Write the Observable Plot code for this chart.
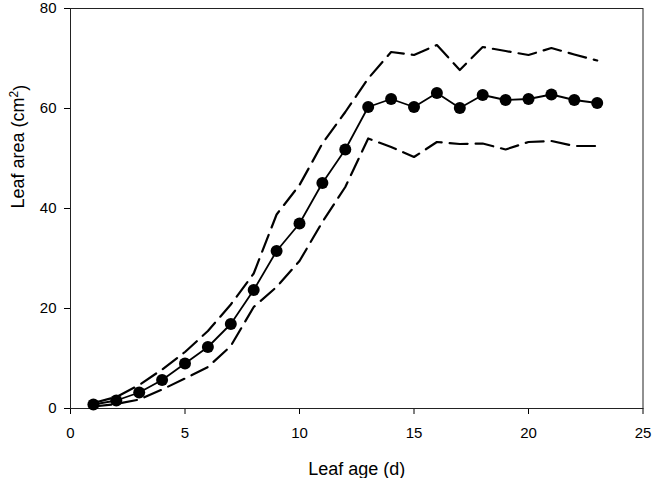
<!DOCTYPE html>
<html>
<head>
<meta charset="utf-8">
<script src="https://cdn.jsdelivr.net/npm/d3@7"></script>
<script src="https://cdn.jsdelivr.net/npm/@observablehq/plot@0.6"></script>
<style>
  html, body { margin: 0; padding: 0; background: #fff; }
</style>
</head>
<body>
<div id="chart"></div>
<script>
const ages = [1,2,3,4,5,6,7,8,9,10,11,12,13,14,15,16,17,18,19,20,21,22,23];
const meanArea = [0.8,1.6,3.2,5.7,9.0,12.3,16.9,23.7,31.5,37.0,45.1,51.8,60.3,61.9,60.3,63.1,60.1,62.7,61.7,61.9,62.8,61.7,61.1];
const upperArea = [1.1,2.3,4.7,7.8,11.3,15.5,20.8,27.0,38.8,44.7,53.0,59.3,66.0,71.3,70.7,72.7,67.7,72.3,71.5,70.7,72.1,70.8,69.6];
const lowerArea = [0.4,0.9,1.8,3.8,6.0,8.3,12.5,20.3,24.3,29.5,37.3,44.3,54.0,52.3,50.3,53.3,52.9,53.0,51.8,53.3,53.5,52.5,52.5];
const xTicks = [0,5,10,15,20,25];
const yTicks = [0,20,40,60,80];
const xTitle = "Leaf age (d)";
const yTitleMain = "Leaf area (cm";
const yTitleSup = "2";
const yTitleEnd = ")";

const data = ages.map((a, i) => ({age: a, mean: meanArea[i], upper: upperArea[i], lower: lowerArea[i]}));

const chart = Plot.plot({
  width: 653,
  height: 478,
  marginLeft: 70,
  marginRight: 10.5,
  marginTop: 8,
  marginBottom: 70,
  style: {fontFamily: "'Liberation Sans', Arial, sans-serif", fontSize: "15px", color: "#000", background: "#fff"},
  x: {domain: [0, 25]},
  y: {domain: [0, 80]},
  marks: [
    Plot.axisX({ticks: xTicks, tickSize: 6, tickPadding: 13, label: null, fontSize: 15}),
    Plot.axisY({ticks: yTicks, tickSize: 6, tickPadding: 8, label: null, fontSize: 15}),
    Plot.frame({stroke: "#222", strokeWidth: 1}),
    Plot.line(data, {x: "age", y: "upper", stroke: "#000", strokeWidth: 2.2, strokeDasharray: "18,8"}),
    Plot.line(data, {x: "age", y: "lower", stroke: "#000", strokeWidth: 2.2, strokeDasharray: "18,8"}),
    Plot.line(data, {x: "age", y: "mean", stroke: "#000", strokeWidth: 1.8}),
    Plot.dot(data, {x: "age", y: "mean", r: 6, fill: "#000", stroke: "none"}),
    Plot.text([xTitle], {frameAnchor: "bottom", dy: 54, lineAnchor: "top", fontSize: 18, text: d => d, fill: "#000"}),
    Plot.text([yTitleMain + yTitleSup + yTitleEnd], {frameAnchor: "left", dx: -47, rotate: -90, lineAnchor: "bottom", fontSize: 18, text: d => d, fill: "#000", className: "ytitle"})
  ]
});
document.getElementById("chart").appendChild(chart);

// render the "2" as a true superscript
d3.select(chart).selectAll("g.ytitle text").each(function() {
  const t = d3.select(this);
  t.text(null);
  t.append("tspan").text(yTitleMain);
  t.append("tspan").attr("dy", "-0.45em").attr("font-size", "12px").text(yTitleSup);
  t.append("tspan").attr("dy", "0.45em").text(yTitleEnd);
});
</script>
</body>
</html>
